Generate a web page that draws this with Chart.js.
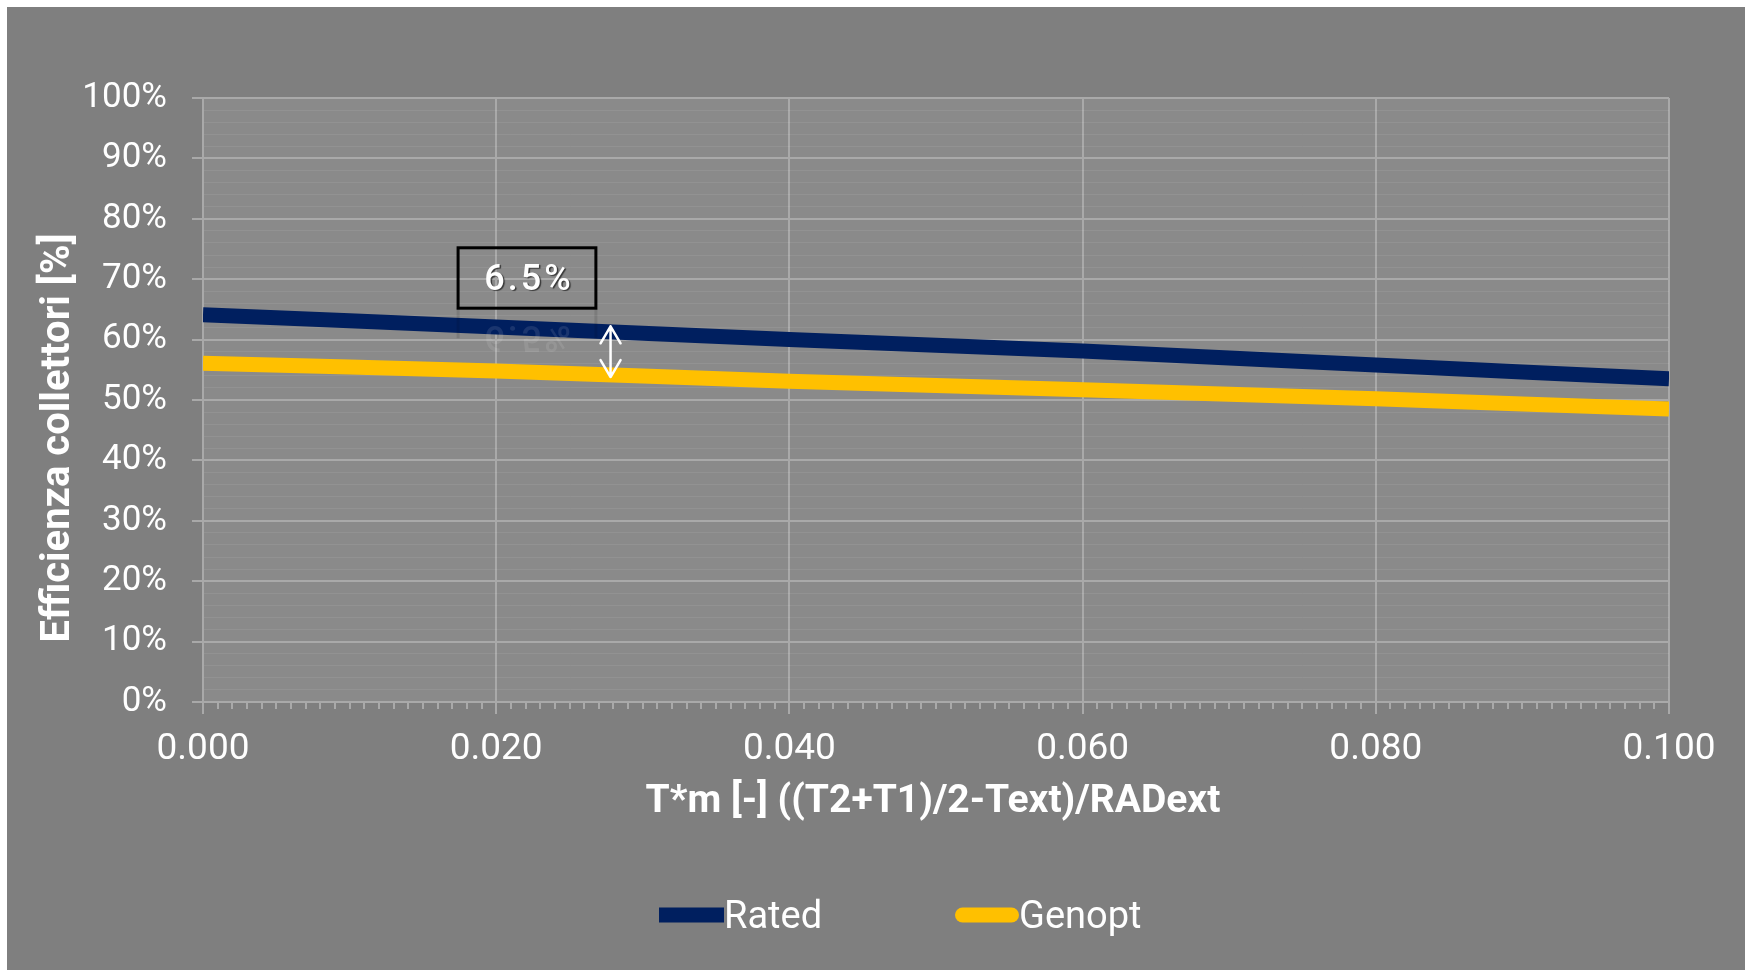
<!DOCTYPE html>
<html>
<head>
<meta charset="utf-8">
<script src="https://cdn.jsdelivr.net/npm/chart.js@4.4.0/dist/chart.umd.min.js"></script>
<style>
  html, body { margin: 0; padding: 0; background: #ffffff; width: 1746px; height: 970px; overflow: hidden; }
  #wrap { position: absolute; left: 7px; top: 7px; width: 1738px; height: 963px; }
</style>
</head>
<body>
<div id="wrap"><canvas id="c" width="1738" height="963"></canvas></div>
<script>
// Collector efficiency vs reduced temperature
const xValues      = [0.00, 0.02, 0.04, 0.06, 0.08, 0.10];
const ratedValues  = [64.1, 62.1, 60.0, 58.1, 55.8, 53.5];
const genoptValues = [56.1, 54.8, 53.1, 51.7, 50.2, 48.5];
const seriesNames  = ['Rated', 'Genopt'];
const seriesColors = ['#001f5f', '#ffc000'];

// gap annotation
const gapLabel = '6.5%';
const gapX = 0.0278;
const gapFrom = 62.2;
const gapTo = 53.8;

const yTitle = 'Efficienza collettori [%]';
const xTitle = 'T*m [-] ((T2+T1)/2-Text)/RADext';

const FONT = 'Roboto, "Open Sans", sans-serif';
const MAJOR_GRID = '#a9a9a9';
const MINOR_GRID = 'rgba(255,255,255,0.07)';

const decorPlugin = {
  id: 'decor',
  beforeDraw(chart) {
    const { ctx, chartArea: a } = chart;
    ctx.save();
    ctx.fillStyle = '#7f7f7f';
    ctx.fillRect(0, 0, chart.width, chart.height);
    ctx.fillStyle = '#8a8a8a';
    ctx.fillRect(a.left, a.top, a.right - a.left, a.bottom - a.top);
    ctx.restore();
  },
  afterDraw(chart) {
    const { ctx, chartArea: a, scales: { x, y } } = chart;
    ctx.save();

    // minor tick marks along the x axis
    ctx.strokeStyle = MAJOR_GRID;
    ctx.lineWidth = 2;
    for (let i = 1; i < 100; i++) {
      if (i % 20 === 0) continue;
      const px = Math.round(x.getPixelForValue(i / 1000));
      ctx.beginPath();
      ctx.moveTo(px, a.bottom);
      ctx.lineTo(px, a.bottom + 7);
      ctx.stroke();
    }

    // boxed gap label with faint mirror image below it
    const bx0 = x.getPixelForValue(0.0174), bx1 = x.getPixelForValue(0.0268);
    const by0 = y.getPixelForValue(75.2), by1 = y.getPixelForValue(65.2);
    const bcx = (bx0 + bx1) / 2, bcy = (by0 + by1) / 2;
    ctx.font = '500 36px ' + FONT;
    ctx.letterSpacing = '3px';
    ctx.textAlign = 'center';
    ctx.textBaseline = 'middle';

    ctx.save();
    ctx.globalAlpha = 0.1;
    ctx.translate(0, 2 * by1);
    ctx.scale(1, -1);
    ctx.fillStyle = '#ffffff';
    ctx.fillText(gapLabel, bcx + 2, bcy + 3);
    ctx.strokeStyle = '#000';
    ctx.lineWidth = 3;
    ctx.beginPath();
    ctx.moveTo(bx0, by1); ctx.lineTo(bx0, by1 - 30);
    ctx.moveTo(bx1, by1); ctx.lineTo(bx1, by1 - 30);
    ctx.stroke();
    ctx.restore();

    ctx.strokeStyle = '#000000';
    ctx.lineWidth = 3;
    ctx.strokeRect(bx0, by0, bx1 - bx0, by1 - by0);
    ctx.save();
    ctx.shadowColor = 'rgba(0,0,0,0.6)';
    ctx.shadowOffsetX = 1.5;
    ctx.shadowOffsetY = 1.5;
    ctx.shadowBlur = 1;
    ctx.fillStyle = '#ffffff';
    ctx.fillText(gapLabel, bcx + 2, bcy + 3);
    ctx.restore();
    ctx.letterSpacing = '0px';

    // double-headed arrow between the two curves
    const ax = x.getPixelForValue(gapX);
    const ay0 = y.getPixelForValue(gapFrom), ay1 = y.getPixelForValue(gapTo);
    ctx.strokeStyle = '#ffffff';
    ctx.lineWidth = 2.5;
    ctx.lineCap = 'round';
    ctx.lineJoin = 'round';
    ctx.beginPath();
    ctx.moveTo(ax, ay0); ctx.lineTo(ax, ay1);
    ctx.moveTo(ax - 10, ay0 + 17); ctx.lineTo(ax, ay0); ctx.lineTo(ax + 10, ay0 + 17);
    ctx.moveTo(ax - 10, ay1 - 17); ctx.lineTo(ax, ay1); ctx.lineTo(ax + 10, ay1 - 17);
    ctx.stroke();

    // axis titles
    ctx.fillStyle = '#ffffff';
    ctx.textAlign = 'center';
    ctx.textBaseline = 'middle';
    ctx.font = 'bold 39px ' + FONT;
    ctx.fillText(xTitle, (a.left + a.right) / 2 - 3, a.bottom + 100);
    ctx.font = 'bold 40px ' + FONT;
    ctx.save();
    ctx.translate(52, 431);
    ctx.rotate(-Math.PI / 2);
    ctx.fillText(yTitle, 0, 0);
    ctx.restore();

    // legend
    const ly = a.bottom + 213;
    const items = [
      { x0: 652, x1: 717, cap: 'butt' },
      { x0: 955.5, x1: 1004.5, cap: 'round', tx: 1012 }
    ];
    ctx.font = '38px ' + FONT;
    ctx.textAlign = 'left';
    chart.data.datasets.forEach((ds, i) => {
      const it = items[i];
      ctx.strokeStyle = ds.borderColor;
      ctx.lineWidth = 15;
      ctx.lineCap = it.cap;
      ctx.beginPath();
      ctx.moveTo(it.x0, ly);
      ctx.lineTo(it.x1, ly);
      ctx.stroke();
      ctx.fillStyle = '#ffffff';
      ctx.fillText(ds.label, it.tx || it.x1, ly + 3);
    });
    ctx.restore();
  }
};

const toPoints = vals => xValues.map((v, i) => ({ x: v, y: vals[i] }));

new Chart(document.getElementById('c'), {
  type: 'line',
  data: {
    datasets: [
      { label: seriesNames[0], data: toPoints(ratedValues), borderColor: seriesColors[0],
        borderWidth: 15, borderCapStyle: 'butt', pointRadius: 0, tension: 0.2, order: 1 },
      { label: seriesNames[1], data: toPoints(genoptValues), borderColor: seriesColors[1],
        borderWidth: 15, borderCapStyle: 'butt', pointRadius: 0, tension: 0.2, order: 2 }
    ]
  },
  options: {
    responsive: false,
    animation: false,
    layout: { padding: { top: 91, right: 76, left: 0, bottom: 0 } },
    plugins: { legend: { display: false }, tooltip: { enabled: false } },
    scales: {
      x: {
        type: 'linear', min: 0, max: 0.1,
        ticks: { stepSize: 0.02, autoSkip: false, maxRotation: 0, color: '#ffffff',
                 font: { family: FONT, size: 37 }, padding: 14,
                 callback: v => v.toFixed(3) },
        grid: { color: MAJOR_GRID, lineWidth: 2, tickLength: 12, tickColor: MAJOR_GRID, tickWidth: 2 },
        border: { color: MAJOR_GRID, width: 2 },
        afterFit(s) { s.height = 268; }
      },
      y: {
        min: 0, max: 100,
        ticks: { stepSize: 2, autoSkip: false, color: '#ffffff',
                 font: { family: FONT, size: 35 }, padding: 25,
                 callback: v => (Math.round(v) % 10 === 0 ? Math.round(v) + '%' : '') },
        grid: {
          color: c => (c.tick && Math.round(c.tick.value) % 10 === 0 ? MAJOR_GRID : MINOR_GRID),
          lineWidth: c => (c.tick && Math.round(c.tick.value) % 10 === 0 ? 2 : 1),
          tickColor: c => (c.tick && Math.round(c.tick.value) % 10 === 0 ? MAJOR_GRID : 'rgba(0,0,0,0)'),
          tickLength: 11, tickWidth: 2
        },
        border: { color: MAJOR_GRID, width: 2 },
        afterFit(s) { s.width = 196; }
      }
    }
  },
  plugins: [decorPlugin]
});
</script>
</body>
</html>
